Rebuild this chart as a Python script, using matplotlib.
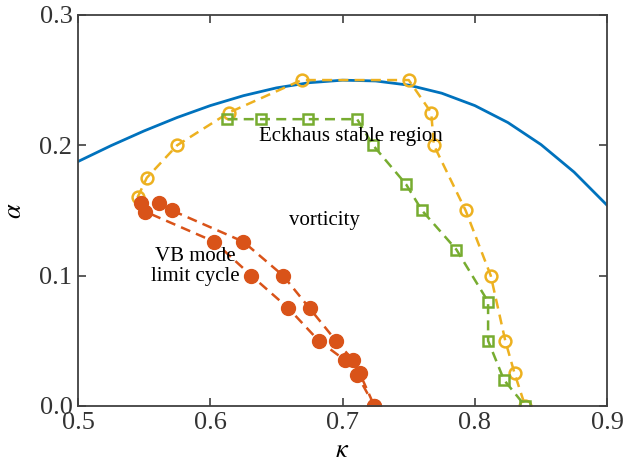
import matplotlib
matplotlib.use('Agg')
import matplotlib.pyplot as plt

plt.rcParams['font.family'] = ['Liberation Serif', 'DejaVu Serif']
plt.rcParams['mathtext.fontset'] = 'stix'

# neutral curve (blue, solid)
curve_k = [0.5, 0.525, 0.55, 0.575, 0.6, 0.625, 0.65, 0.675, 0.7,
           0.725, 0.75, 0.775, 0.8, 0.825, 0.85, 0.875, 0.9]
curve_a = [0.1875, 0.1997, 0.2110, 0.2213, 0.2304, 0.2380, 0.2440, 0.2480, 0.2499,
           0.2493, 0.2461, 0.2399, 0.2304, 0.2174, 0.2005, 0.1794, 0.1539]

# yellow open circles
yel_k = [0.545, 0.552, 0.575, 0.614, 0.669, 0.750, 0.767, 0.769, 0.793,
         0.812, 0.823, 0.830, 0.838]
yel_a = [0.160, 0.175, 0.200, 0.225, 0.250, 0.250, 0.225, 0.200, 0.150,
         0.100, 0.050, 0.025, 0.0]

# green open squares
grn_k = [0.613, 0.638, 0.674, 0.711, 0.723, 0.748, 0.760, 0.786, 0.810,
         0.810, 0.822, 0.838]
grn_a = [0.220, 0.220, 0.220, 0.220, 0.200, 0.170, 0.150, 0.120, 0.080,
         0.050, 0.020, 0.0]

# red filled circles, two branches
red1_k = [0.561, 0.571, 0.625, 0.655, 0.675, 0.695, 0.708, 0.713, 0.724]
red1_a = [0.156, 0.150, 0.126, 0.100, 0.075, 0.050, 0.035, 0.025, 0.0]
red2_k = [0.548, 0.551, 0.603, 0.631, 0.659, 0.682, 0.702, 0.711, 0.724]
red2_a = [0.156, 0.149, 0.126, 0.100, 0.075, 0.050, 0.035, 0.024, 0.0]

blue = '#0072BD'
red = '#D95319'
yellow = '#EDB120'
green = '#77AC30'

fig = plt.figure(figsize=(6.24, 4.65), dpi=100)
ax = fig.add_axes([0.125, 0.127, 0.848, 0.841])

ax.plot(curve_k, curve_a, '-', color=blue, lw=2)
dash = (0, (4, 2.5))
ax.plot(yel_k, yel_a, linestyle=dash, color=yellow, lw=1.8, marker='o',
        markersize=8.5, markerfacecolor='none', markeredgewidth=1.8)
ax.plot(grn_k, grn_a, linestyle=dash, color=green, lw=1.8, marker='s',
        markersize=6.5, markerfacecolor='none', markeredgewidth=1.8)
ax.plot(red1_k, red1_a, linestyle=dash, color=red, lw=1.8, marker='o',
        markersize=10)
ax.plot(red2_k, red2_a, linestyle=dash, color=red, lw=1.8, marker='o',
        markersize=10)

ax.text(0.706, 0.207, 'Eckhaus stable region', ha='center', va='center', fontsize=15)
ax.text(0.686, 0.142, 'vorticity', ha='center', va='center', fontsize=15)
ax.text(0.589, 0.107, 'VB mode\nlimit cycle', ha='center', va='center', fontsize=15,
        linespacing=1.05)

ax.set_xlim(0.5, 0.9)
ax.set_ylim(0, 0.3)
ax.set_xticks([0.5, 0.6, 0.7, 0.8, 0.9])
ax.set_yticks([0.0, 0.1, 0.2, 0.3])
ax.set_xticklabels(['0.5', '0.6', '0.7', '0.8', '0.9'])
ax.set_yticklabels(['0.0', '0.1', '0.2', '0.3'])
ax.tick_params(direction='in', top=True, right=True, labelsize=19, colors='#404040',
               length=6, width=1.2, pad=4)
for lab in ax.get_xticklabels() + ax.get_yticklabels():
    lab.set_color('#333333')
for s in ax.spines.values():
    s.set_color('#404040')
    s.set_linewidth(1.3)

ax.set_xlabel(r'$\kappa$', fontsize=19, labelpad=5)
ax.set_ylabel(r'$\alpha$', fontsize=19, labelpad=10)

fig.savefig('out.png', dpi=100)
